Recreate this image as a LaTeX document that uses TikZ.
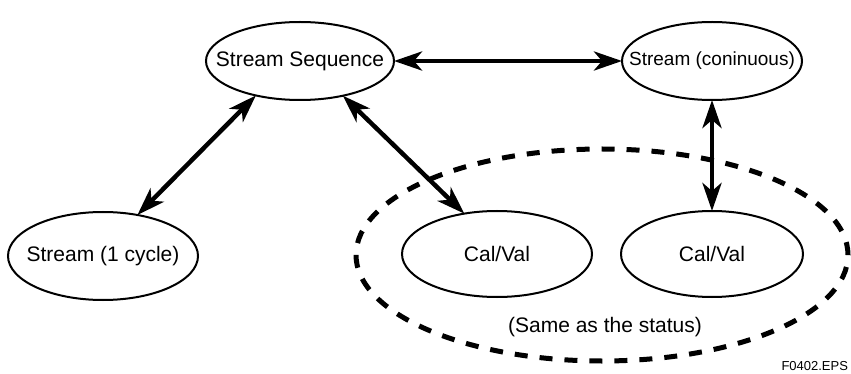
\documentclass[tikz,border=0pt]{standalone}
\usepackage{fontspec}
\setmainfont{Liberation Sans}
\usetikzlibrary{shapes.geometric,arrows.meta}
\begin{document}
\begin{tikzpicture}[x=1pt,y=-1pt]
\tikzset{ >={Stealth[length=28pt,width=19pt,inset=8pt]}, inner sep=0pt, outer sep=0pt,
  oval/.style={draw, ellipse, line width=2pt, inner xsep=-40pt, inner ysep=-10pt,
               font=\fontsize{21}{24}\selectfont},
  link/.style={<->, line width=4.5pt},
  group/.style={draw, ellipse, line width=5pt, dash pattern=on 13pt off 12pt} }
\useasboundingbox (0,0) rectangle (851,374);

\node [group, minimum width=492pt, minimum height=212pt] (G) at (602,255) {};

\node [oval, minimum width=188pt, minimum height=78pt] (SS)  at (300,61)  {Stream Sequence};
\node [oval, minimum width=180pt, minimum height=78pt,
       font=\fontsize{19}{22}\selectfont]              (CO)  at (712,61)  {Stream (coninuous)};
\node [oval, minimum width=190pt, minimum height=88pt] (C1)  at (103,256) {Stream (1 cycle)};
\node [oval, minimum width=190pt, minimum height=86pt] (CV1) at (497,254) {Cal/Val};
\node [oval, minimum width=182pt, minimum height=86pt] (CV2) at (712,254) {Cal/Val};

\draw [link] (SS.east)   -- (CO.west);
\draw [link] (SS.218.4)  -- (C1.50.6);
\draw [link] (SS.321.6)  -- (CV1.129.1);
\draw [link] (CO.south)  -- (CV2.north);

\node [font=\fontsize{21}{24}\selectfont] (ST) at (605,327) {(Same as the status)};
\node [font=\fontsize{13}{15}\selectfont, anchor=base east] (FN) at (848,370) {F0402.EPS};

\end{tikzpicture}
\end{document}
